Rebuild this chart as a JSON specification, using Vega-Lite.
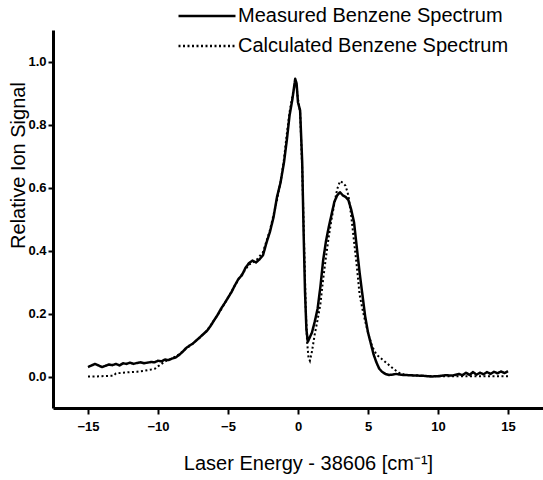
{
  "$schema": "https://vega.github.io/schema/vega-lite/v6.json",
  "width": 490,
  "height": 378,
  "autosize": {"type": "none"},
  "padding": {"left": 53, "top": 30, "right": 0, "bottom": 72},
  "background": "white",
  "config": {
    "view": {"stroke": null},
    "font": "Liberation Sans",
    "axis": {"grid": false, "domainColor": "black", "tickColor": "black", "labelColor": "black", "titleColor": "black", "labelOverlap": false, "labelBound": false}
  },
  "datasets": {
    "measured": [
      {"x": -15.0, "y": 0.030}, {"x": -14.75, "y": 0.035}, {"x": -14.5, "y": 0.040}, {"x": -14.25, "y": 0.035},
      {"x": -14.0, "y": 0.030}, {"x": -13.75, "y": 0.034}, {"x": -13.5, "y": 0.038}, {"x": -13.25, "y": 0.036},
      {"x": -13.0, "y": 0.040}, {"x": -12.75, "y": 0.035}, {"x": -12.5, "y": 0.042}, {"x": -12.25, "y": 0.040},
      {"x": -12.0, "y": 0.044}, {"x": -11.75, "y": 0.040}, {"x": -11.5, "y": 0.043}, {"x": -11.25, "y": 0.045},
      {"x": -11.0, "y": 0.042}, {"x": -10.75, "y": 0.044}, {"x": -10.5, "y": 0.046}, {"x": -10.25, "y": 0.045},
      {"x": -10.0, "y": 0.050}, {"x": -9.75, "y": 0.048}, {"x": -9.5, "y": 0.054}, {"x": -9.25, "y": 0.052},
      {"x": -9.0, "y": 0.057}, {"x": -8.75, "y": 0.060}, {"x": -8.5, "y": 0.068}, {"x": -8.25, "y": 0.078},
      {"x": -8.0, "y": 0.090}, {"x": -7.75, "y": 0.098}, {"x": -7.5, "y": 0.105}, {"x": -7.25, "y": 0.115},
      {"x": -7.0, "y": 0.125}, {"x": -6.75, "y": 0.135}, {"x": -6.5, "y": 0.145}, {"x": -6.25, "y": 0.160},
      {"x": -6.0, "y": 0.178}, {"x": -5.75, "y": 0.195}, {"x": -5.5, "y": 0.215}, {"x": -5.25, "y": 0.232},
      {"x": -5.0, "y": 0.250}, {"x": -4.75, "y": 0.268}, {"x": -4.5, "y": 0.290}, {"x": -4.25, "y": 0.310},
      {"x": -4.0, "y": 0.322}, {"x": -3.75, "y": 0.345}, {"x": -3.5, "y": 0.360}, {"x": -3.25, "y": 0.368},
      {"x": -3.0, "y": 0.362}, {"x": -2.75, "y": 0.372}, {"x": -2.5, "y": 0.385}, {"x": -2.25, "y": 0.425},
      {"x": -2.0, "y": 0.460}, {"x": -1.75, "y": 0.505}, {"x": -1.5, "y": 0.570}, {"x": -1.25, "y": 0.615},
      {"x": -1.0, "y": 0.680}, {"x": -0.8, "y": 0.750}, {"x": -0.6, "y": 0.830}, {"x": -0.4, "y": 0.880},
      {"x": -0.2, "y": 0.945}, {"x": -0.1, "y": 0.930}, {"x": 0.0, "y": 0.870}, {"x": 0.15, "y": 0.845},
      {"x": 0.3, "y": 0.680}, {"x": 0.4, "y": 0.460}, {"x": 0.5, "y": 0.270}, {"x": 0.6, "y": 0.150},
      {"x": 0.7, "y": 0.110}, {"x": 0.85, "y": 0.125}, {"x": 1.0, "y": 0.140}, {"x": 1.2, "y": 0.175},
      {"x": 1.4, "y": 0.215}, {"x": 1.6, "y": 0.285}, {"x": 1.8, "y": 0.370}, {"x": 2.0, "y": 0.430},
      {"x": 2.2, "y": 0.475}, {"x": 2.4, "y": 0.515}, {"x": 2.6, "y": 0.555}, {"x": 2.8, "y": 0.575},
      {"x": 3.0, "y": 0.585}, {"x": 3.2, "y": 0.575}, {"x": 3.4, "y": 0.570}, {"x": 3.6, "y": 0.560},
      {"x": 3.8, "y": 0.530}, {"x": 4.0, "y": 0.490}, {"x": 4.2, "y": 0.410}, {"x": 4.4, "y": 0.330},
      {"x": 4.6, "y": 0.260}, {"x": 4.8, "y": 0.190}, {"x": 5.0, "y": 0.140}, {"x": 5.2, "y": 0.105},
      {"x": 5.4, "y": 0.070}, {"x": 5.6, "y": 0.045}, {"x": 5.8, "y": 0.025}, {"x": 6.0, "y": 0.015},
      {"x": 6.25, "y": 0.008}, {"x": 6.5, "y": 0.005}, {"x": 6.75, "y": 0.006}, {"x": 7.0, "y": 0.008},
      {"x": 7.5, "y": 0.005}, {"x": 8.0, "y": 0.004}, {"x": 8.5, "y": 0.003}, {"x": 9.0, "y": 0.002},
      {"x": 9.5, "y": 0.000}, {"x": 10.0, "y": 0.001}, {"x": 10.5, "y": 0.004}, {"x": 11.0, "y": 0.003},
      {"x": 11.5, "y": 0.008}, {"x": 11.75, "y": 0.004}, {"x": 12.0, "y": 0.012}, {"x": 12.25, "y": 0.005},
      {"x": 12.5, "y": 0.014}, {"x": 12.75, "y": 0.006}, {"x": 13.0, "y": 0.012}, {"x": 13.25, "y": 0.007},
      {"x": 13.5, "y": 0.014}, {"x": 13.75, "y": 0.008}, {"x": 14.0, "y": 0.015}, {"x": 14.25, "y": 0.010},
      {"x": 14.5, "y": 0.016}, {"x": 14.75, "y": 0.011}, {"x": 15.0, "y": 0.017}
    ],
    "calculated": [
      {"x": -15.0, "y": 0.000}, {"x": -14.5, "y": 0.000}, {"x": -14.0, "y": 0.001}, {"x": -13.5, "y": 0.002},
      {"x": -13.2, "y": 0.002}, {"x": -13.0, "y": 0.010}, {"x": -12.5, "y": 0.012}, {"x": -12.0, "y": 0.014},
      {"x": -11.5, "y": 0.015}, {"x": -11.0, "y": 0.018}, {"x": -10.5, "y": 0.022}, {"x": -10.2, "y": 0.025},
      {"x": -10.0, "y": 0.032}, {"x": -9.75, "y": 0.040}, {"x": -9.5, "y": 0.048}, {"x": -9.0, "y": 0.057},
      {"x": -8.5, "y": 0.070}, {"x": -8.0, "y": 0.088}, {"x": -7.5, "y": 0.105}, {"x": -7.0, "y": 0.124},
      {"x": -6.5, "y": 0.146}, {"x": -6.0, "y": 0.178}, {"x": -5.5, "y": 0.212}, {"x": -5.0, "y": 0.250},
      {"x": -4.5, "y": 0.290}, {"x": -4.0, "y": 0.325}, {"x": -3.5, "y": 0.355}, {"x": -3.0, "y": 0.368},
      {"x": -2.5, "y": 0.395}, {"x": -2.0, "y": 0.465}, {"x": -1.5, "y": 0.560}, {"x": -1.2, "y": 0.630},
      {"x": -1.0, "y": 0.690}, {"x": -0.8, "y": 0.770}, {"x": -0.6, "y": 0.840}, {"x": -0.4, "y": 0.890},
      {"x": -0.2, "y": 0.930}, {"x": -0.1, "y": 0.920}, {"x": 0.0, "y": 0.880}, {"x": 0.15, "y": 0.840},
      {"x": 0.3, "y": 0.660}, {"x": 0.45, "y": 0.400}, {"x": 0.55, "y": 0.220}, {"x": 0.65, "y": 0.110},
      {"x": 0.75, "y": 0.060}, {"x": 0.85, "y": 0.050}, {"x": 1.0, "y": 0.080}, {"x": 1.2, "y": 0.135},
      {"x": 1.4, "y": 0.180}, {"x": 1.6, "y": 0.230}, {"x": 1.8, "y": 0.310}, {"x": 2.0, "y": 0.380},
      {"x": 2.2, "y": 0.445}, {"x": 2.4, "y": 0.500}, {"x": 2.6, "y": 0.550}, {"x": 2.8, "y": 0.595},
      {"x": 3.0, "y": 0.620}, {"x": 3.2, "y": 0.615}, {"x": 3.4, "y": 0.605}, {"x": 3.6, "y": 0.575},
      {"x": 3.8, "y": 0.510}, {"x": 4.0, "y": 0.430}, {"x": 4.2, "y": 0.350}, {"x": 4.4, "y": 0.260},
      {"x": 4.6, "y": 0.215}, {"x": 4.8, "y": 0.175}, {"x": 5.0, "y": 0.140}, {"x": 5.3, "y": 0.095},
      {"x": 5.6, "y": 0.070}, {"x": 6.0, "y": 0.055}, {"x": 6.4, "y": 0.040}, {"x": 6.8, "y": 0.025},
      {"x": 7.2, "y": 0.012}, {"x": 7.6, "y": 0.006}, {"x": 8.0, "y": 0.004}, {"x": 9.0, "y": 0.002},
      {"x": 10.0, "y": 0.001}, {"x": 12.0, "y": 0.001}, {"x": 15.0, "y": 0.001}
    ]
  },
  "layer": [
    {
      "data": {"name": "calculated"},
      "transform": [{"calculate": "'Calculated Benzene Spectrum'", "as": "series"}],
      "mark": {"type": "line", "color": "black", "strokeWidth": 2, "strokeCap": "butt"},
      "encoding": {
        "x": {"field": "x", "type": "quantitative"},
        "y": {"field": "y", "type": "quantitative"},
        "strokeDash": {"field": "series", "type": "nominal"}
      }
    },
    {
      "data": {"name": "measured"},
      "transform": [{"calculate": "'Measured Benzene Spectrum'", "as": "series"}],
      "mark": {"type": "line", "color": "black", "strokeWidth": 2.5, "strokeJoin": "round"},
      "encoding": {
        "x": {
          "field": "x", "type": "quantitative",
          "scale": {"domain": [-17.5, 17.5], "nice": false, "zero": false},
          "axis": {
            "title": "Laser Energy - 38606 [cm⁻¹]",
            "titleFontSize": 20, "titleFontWeight": "normal", "titleX": 255, "titleY": 55, "titleBaseline": "middle",
            "values": [-15, -10, -5, 0, 5, 10, 15],
            "format": "d",
            "labelFontSize": 13, "labelFontWeight": "bold", "labelPadding": 6,
            "tickSize": 6, "tickWidth": 2, "domainWidth": 3, "labelFlush": false
          }
        },
        "y": {
          "field": "y", "type": "quantitative",
          "scale": {"domain": [-0.1, 1.1], "nice": false, "zero": false},
          "axis": {
            "title": "Relative Ion Signal",
            "titleFontSize": 20, "titleFontWeight": "normal", "titleX": -35, "titleY": 135, "titleBaseline": "middle", "titleAlign": "center",
            "values": [0, 0.2, 0.4, 0.6, 0.8, 1.0],
            "format": ".1f",
            "labelFontSize": 13, "labelFontWeight": "bold", "labelPadding": 2,
            "tickSize": 5, "tickWidth": 2, "domainWidth": 3, "labelFlush": false
          }
        },
        "strokeDash": {
          "field": "series", "type": "nominal",
          "scale": {"domain": ["Measured Benzene Spectrum", "Calculated Benzene Spectrum"], "range": [[1, 0], [2, 2.5]]},
          "legend": {
            "title": null, "orient": "none", "legendX": 124, "legendY": -29,
            "symbolType": "stroke", "symbolSize": 3249, "symbolStrokeWidth": 2.5, "symbolStrokeColor": "black",
            "labelFontSize": 20, "labelColor": "black", "labelOffset": 1, "labelLimit": 400, "rowPadding": 0, "clipHeight": 30
          }
        }
      }
    }
  ]
}
